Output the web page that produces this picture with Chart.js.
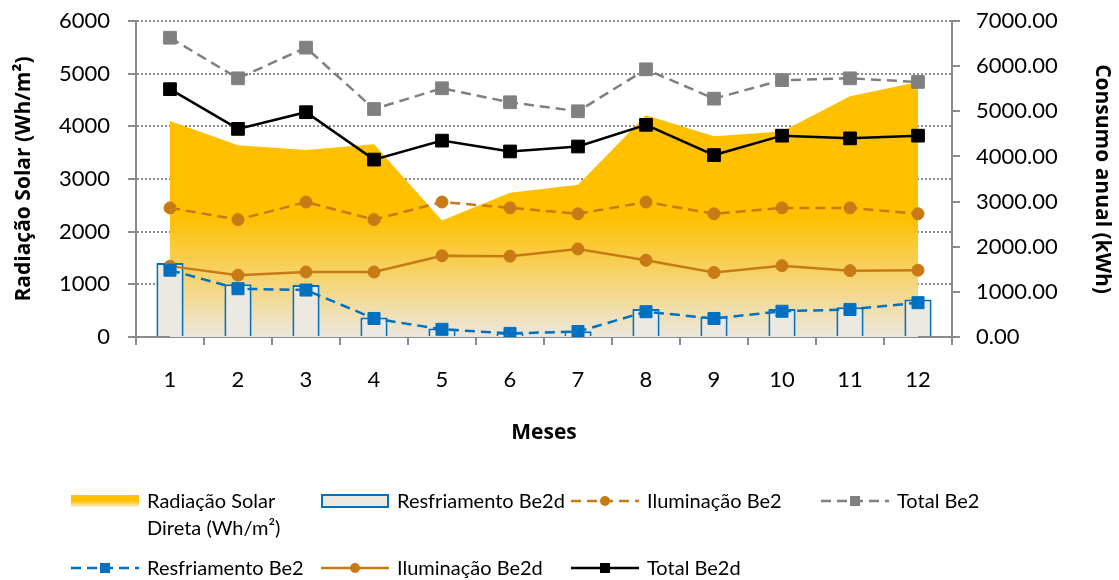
<!DOCTYPE html>
<html lang="pt">
<head>
<meta charset="utf-8">
<title>Radiação solar e consumo anual</title>
<script src="https://cdn.jsdelivr.net/npm/chart.js@4.4.1/dist/chart.umd.min.js"></script>
<style>
    body { margin: 0; background: #fff; font-family: 'Lato', sans-serif; }
    #wrap { position: relative; width: 1119px; height: 580px; overflow: hidden; }
    #chartBox { position: absolute; left: 0; top: 0; width: 1119px; height: 460px; }
    #legend { position: absolute; left: 0; top: 0; width: 1119px; height: 580px; pointer-events: none; }
    .item { position: absolute; display: flex; align-items: flex-start; font-size: 20px; line-height: 27px; color: #000; }
    .swatch { width: 76px; height: 27px; display: flex; align-items: center; }
    .txt { white-space: nowrap; }
    .txt.wrap { white-space: normal; width: 150px; }
</style>
</head>
<body>
<div id="wrap">
    <div id="chartBox"><canvas id="chart"></canvas></div>
    <div id="legend"></div>
</div>
<script>
// --- Data ---

const meses = ['1', '2', '3', '4', '5', '6', '7', '8', '9', '10', '11', '12'];

// left axis, Wh/m²
const radiacaoSolar = [4100, 3640, 3550, 3660, 2210, 2740, 2890, 4210, 3810, 3900, 4570, 4840];

// right axis, kWh
const resfriamentoBe2d = [1640, 1170, 1150, 430, 190, 80, 130, 620, 450, 620, 660, 830];
const resfriamentoBe2 = [1480, 1070, 1040, 410, 170, 80, 120, 560, 410, 570, 610, 760];
const iluminacaoBe2 = [2860, 2600, 2990, 2600, 2990, 2860, 2730, 2990, 2730, 2860, 2860, 2730];
const iluminacaoBe2d = [1570, 1370, 1440, 1440, 1800, 1790, 1950, 1700, 1430, 1580, 1470, 1480];
const totalBe2 = [6630, 5730, 6410, 5050, 5510, 5200, 5000, 5930, 5280, 5690, 5730, 5650];
const totalBe2d = [5490, 4610, 4980, 3930, 4350, 4110, 4220, 4700, 4030, 4460, 4400, 4460];

const radiacaoTicks = { min: 0, max: 6000, step: 1000 };
const consumoTicks = { min: 0, max: 7000, step: 1000 };

// --- Styles ---
const FONT = 'Lato';
const TITLE_FONT = { family: 'Open Sans', size: 21, weight: 'bold' };
const AXIS_GRAY = '#8a8a8a';
const GRID_GRAY = '#8c8c8c';
const YELLOW = '#FFC000';
const FADE = '#ECE7DE';
const BLUE = '#0070C0';
const ORANGE = '#C87A14';
const GRAY = '#808080';
const BAR_FILL = '#ECE9E2';
const DASH = [10, 6];

function areaGradient(context) {
    const { ctx, chartArea } = context.chart;
    if (!chartArea) return YELLOW;
    const g = ctx.createLinearGradient(0, chartArea.top, 0, chartArea.bottom);
    g.addColorStop(0, YELLOW);
    g.addColorStop(0.62, YELLOW);
    g.addColorStop(1, FADE);
    return g;
}

function lineSet(label, data, color, dash, pointStyle, radius) {
    return {
        type: 'line',
        label: label,
        data: data,
        yAxisID: 'y1',
        borderColor: color,
        backgroundColor: color,
        borderWidth: 2.5,
        borderDash: dash,
        pointStyle: pointStyle,
        pointRadius: radius,
        pointBorderWidth: 1,
        pointBorderColor: color,
        tension: 0,
        fill: false,
        order: 1
    };
}

const datasets = [
    {
        type: 'line',
        label: 'Radiação Solar Direta (Wh/m²)',
        data: radiacaoSolar,
        yAxisID: 'y',
        backgroundColor: areaGradient,
        borderWidth: 0,
        pointRadius: 0,
        fill: 'origin',
        tension: 0,
        order: 10
    },
    {
        type: 'bar',
        label: 'Resfriamento Be2d',
        data: resfriamentoBe2d,
        yAxisID: 'y1',
        backgroundColor: BAR_FILL,
        borderColor: BLUE,
        borderWidth: 2,
        barPercentage: 0.4,
        categoryPercentage: 1,
        order: 9
    },
    lineSet('Iluminação Be2', iluminacaoBe2, ORANGE, DASH, 'circle', 6),
    lineSet('Total Be2', totalBe2, GRAY, DASH, 'rect', 9),
    lineSet('Resfriamento Be2', resfriamentoBe2, BLUE, DASH, 'rect', 8.5),
    lineSet('Iluminação Be2d', iluminacaoBe2d, ORANGE, [], 'circle', 6),
    lineSet('Total Be2d', totalBe2d, '#000000', [], 'rect', 9)
];

// keep the plot box where the reference has it
function fixPadding(s) {
    s.paddingTop = 0;
    s.paddingBottom = 0;
    s.paddingLeft = 0;
    s.paddingRight = 0;
}

new Chart(document.getElementById('chart'), {
    type: 'bar',
    data: { labels: meses, datasets: datasets },
    options: {
        responsive: true,
        maintainAspectRatio: false,
        animation: false,
        layout: { padding: { top: 21, bottom: 14, left: 0, right: 0 } },
        plugins: {
            legend: { display: false },
            tooltip: { enabled: false }
        },
        scales: {
            x: {
                offset: true,
                grid: { drawOnChartArea: false, drawTicks: true, tickLength: 8, color: AXIS_GRAY, lineWidth: 2, offset: true },
                border: { color: AXIS_GRAY, width: 2 },
                ticks: { color: '#000', font: { family: FONT, size: 22 }, padding: 22 },
                title: { display: true, text: 'Meses', color: '#000', font: TITLE_FONT, padding: { top: 0, bottom: 0 } },
                afterFit: s => { s.height = 109; fixPadding(s); }
            },
            y: {
                position: 'left',
                min: radiacaoTicks.min,
                max: radiacaoTicks.max,
                grid: { display: true, drawOnChartArea: true, drawTicks: true, color: GRID_GRAY, lineWidth: 2, tickLength: 8, tickColor: AXIS_GRAY, tickBorderDash: [] },
                border: { display: true, color: AXIS_GRAY, width: 2, dash: [2, 2] },
                ticks: {
                    stepSize: radiacaoTicks.step,
                    color: '#000',
                    font: { family: FONT, size: 22 },
                    padding: 18,
                    callback: v => String(v)
                },
                title: { display: true, text: 'Radiação Solar (Wh/m²)', color: '#000', font: TITLE_FONT, padding: { top: 11, bottom: 0 } },
                afterFit: s => { s.width = 136; fixPadding(s); }
            },
            y1: {
                position: 'right',
                min: consumoTicks.min,
                max: consumoTicks.max,
                grid: { drawOnChartArea: false, tickLength: 8, color: AXIS_GRAY, lineWidth: 2 },
                border: { color: AXIS_GRAY, width: 2 },
                ticks: {
                    stepSize: consumoTicks.step,
                    color: '#000',
                    font: { family: FONT, size: 22 },
                    padding: 16,
                    callback: v => Number(v).toFixed(2)
                },
                title: { display: true, text: 'Consumo anual (kWh)', color: '#000', font: TITLE_FONT, padding: { top: 4, bottom: 0 } },
                afterFit: s => { s.width = 167; fixPadding(s); }
            }
        }
    }
});

// --- HTML legend ---
function swatchFor(ds) {
    if (ds.type === 'bar') {
        return `<div style="width:64px;height:10px;background:${ds.backgroundColor};border:2px solid ${ds.borderColor}"></div>`;
    }
    if (ds.fill) {
        return `<div style="width:68px;height:12px;background:linear-gradient(${YELLOW} 0%, ${YELLOW} 50%, #F8F1DE 100%)"></div>`;
    }
    const c = ds.borderColor;
    const dash = ds.borderDash.length ? `stroke-dasharray="${ds.borderDash.join(' ')}"` : '';
    const marker = ds.pointStyle === 'circle'
        ? `<circle cx="34" cy="7" r="5" fill="${c}"/>`
        : `<rect x="29" y="2" width="10" height="10" fill="${c}"/>`;
    return `<svg width="68" height="14"><line x1="0" y1="7" x2="68" y2="7" stroke="${c}" stroke-width="2.5" ${dash}/>${marker}</svg>`;
}

const legendRows = [
    ['Radiação Solar Direta (Wh/m²)', 'Resfriamento Be2d', 'Iluminação Be2', 'Total Be2'],
    ['Resfriamento Be2', 'Iluminação Be2d', 'Total Be2d']
];
const legendEl = document.getElementById('legend');
legendRows.forEach((row, r) => {
    row.forEach((label, c) => {
        const ds = datasets.find(d => d.label === label);
        const item = document.createElement('div');
        item.className = 'item';
        item.style.left = (71 + c * 250) + 'px';
        item.style.top = (r === 0 ? 487 : 554) + 'px';
        const wrapCls = ds.fill ? 'txt wrap' : 'txt';
        item.innerHTML = `<div class="swatch">${swatchFor(ds)}</div><div class="${wrapCls}">${label}</div>`;
        legendEl.appendChild(item);
    });
});
</script>
</body>
</html>
